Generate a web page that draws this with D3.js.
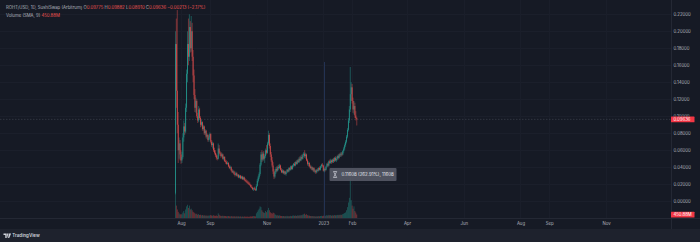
<!DOCTYPE html>
<html><head><meta charset="utf-8">
<script src="https://cdn.jsdelivr.net/npm/d3@7"></script>
<style>
html,body{margin:0;padding:0;background:#161a25;overflow:hidden;}
svg{display:block;font-family:"Inter","Noto Sans",sans-serif;}
</style>
</head><body>
<svg id="chart" width="700" height="242"></svg>
<script>
// Daily candles, first bar on 2022-07-26, one bar per day
const firstDay = "2022-07-26";

const opens = [
  .010,.185,.130,.090,.060,.068,
  .055,.048,.052,.075,.088,.082,.110,.150,.185,.170,.205,.180,.200,.170,.148,.125,.110,.118,.100,.095,.108,.098,.090,.093,.085,.088,.080,.083,.076,.078,.072,
  .075,.079,.070,.066,.068,.060,.057,.054,.051,.050,.062,.057,.056,.053,.055,.050,.052,.047,.046,.044,.045,.041,.039,.040,.036,.034,.035,.032,.031,.033,
  .030,.031,.028,.030,.027,.029,.026,.028,.025,.024,.023,.022,.021,.020,.019,.017,.016,.014,.015,.014,.013,.018,.024,.028,.032,.043,.055,.049,.056,.050,.053,
  .060,.057,.068,.078,.065,.055,.048,.042,.035,.029,.034,.038,.036,.040,.039,.042,.037,.034,.036,.033,.035,.032,.034,.037,.035,.039,.037,.041,.038,.042,
  .044,.042,.046,.044,.048,.046,.050,.048,.052,.050,.054,.056,.053,.055,.048,.044,.045,.041,.039,.040,.037,.039,.035,.036,.034,.037,.036,.039,.037,.041,.043,
  .042,.036,.038,.037,.041,.044,.042,.047,.045,.048,.046,.049,.047,.051,.048,.050,.053,.051,.055,.054,.056,.055,.059,.062,.066,.070,.076,.084,.095,.108,.126,
  .134,.118,.108,.112,.101,.09775
];
const highs = [
  .200,.215,.225,.105,.075,.072,
  .060,.058,.080,.095,.092,.115,.155,.200,.215,.220,.212,.218,.210,.178,.155,.132,.122,.120,.104,.112,.110,.100,.096,.094,.090,.089,.085,.084,.080,.079,.077,
  .081,.080,.072,.070,.069,.063,.060,.056,.054,.068,.066,.059,.058,.057,.056,.053,.053,.049,.048,.047,.046,.043,.042,.041,.038,.037,.036,.034,.035,.034,
  .032,.032,.031,.031,.030,.030,.029,.029,.027,.026,.025,.024,.023,.022,.020,.019,.017,.016,.017,.016,.020,.026,.030,.034,.045,.058,.060,.058,.059,.055,.062,
  .066,.070,.083,.080,.068,.058,.052,.046,.038,.036,.040,.041,.042,.043,.044,.043,.039,.038,.037,.036,.036,.035,.038,.038,.040,.040,.042,.042,.043,.045,
  .046,.047,.048,.049,.050,.052,.053,.054,.055,.056,.058,.060,.057,.056,.050,.047,.046,.043,.042,.041,.040,.040,.038,.037,.038,.039,.040,.041,.042,.044,.045,
  .043,.039,.040,.042,.045,.046,.048,.049,.050,.049,.050,.051,.052,.053,.052,.054,.055,.056,.057,.058,.058,.060,.064,.068,.072,.078,.086,.098,.112,.158,.140,
  .138,.122,.118,.116,.106,.09882
];
const lows = [
  .008,.110,.080,.045,.050,.048,
  .044,.045,.050,.070,.078,.080,.105,.140,.160,.165,.175,.176,.165,.140,.120,.105,.104,.098,.092,.093,.096,.087,.088,.083,.083,.078,.078,.074,.073,.070,.070,
  .073,.068,.064,.062,.058,.055,.052,.049,.048,.049,.055,.053,.051,.052,.049,.048,.046,.044,.043,.043,.040,.038,.037,.035,.033,.033,.031,.029,.030,.029,
  .028,.027,.027,.026,.026,.025,.025,.024,.023,.022,.021,.020,.019,.018,.016,.015,.013,.012,.013,.012,.012,.017,.022,.026,.030,.041,.046,.047,.048,.045,.051,
  .055,.056,.066,.062,.052,.046,.040,.032,.026,.027,.032,.034,.035,.037,.038,.036,.033,.033,.032,.031,.031,.030,.033,.034,.034,.036,.036,.037,.037,.040,
  .041,.041,.043,.043,.045,.045,.047,.047,.049,.049,.052,.051,.050,.047,.042,.041,.040,.038,.037,.036,.035,.034,.033,.032,.033,.035,.035,.036,.036,.039,.040,
  .035,.034,.035,.036,.040,.040,.041,.044,.044,.044,.045,.045,.046,.047,.046,.048,.049,.050,.052,.052,.053,.054,.057,.060,.064,.068,.074,.082,.092,.105,.118,
  .115,.104,.102,.098,.095,.08910
];
const closes = [
  .185,.130,.090,.060,.068,.055,
  .048,.052,.075,.088,.082,.110,.150,.185,.170,.205,.180,.200,.170,.148,.125,.110,.118,.100,.095,.108,.098,.090,.093,.085,.088,.080,.083,.076,.078,.072,.075,
  .079,.070,.066,.068,.060,.057,.054,.051,.050,.062,.057,.056,.053,.055,.050,.052,.047,.046,.044,.045,.041,.039,.040,.036,.034,.035,.032,.031,.033,.030,
  .031,.028,.030,.027,.029,.026,.028,.025,.024,.023,.022,.021,.020,.019,.017,.016,.014,.015,.014,.013,.018,.024,.028,.032,.043,.055,.049,.056,.050,.053,.060,
  .057,.068,.078,.065,.055,.048,.042,.035,.029,.034,.038,.036,.040,.039,.042,.037,.034,.036,.033,.035,.032,.034,.037,.035,.039,.037,.041,.038,.042,.044,
  .042,.046,.044,.048,.046,.050,.048,.052,.050,.054,.056,.053,.055,.048,.044,.045,.041,.039,.040,.037,.039,.035,.036,.034,.037,.036,.039,.037,.041,.043,.042,
  .036,.038,.037,.041,.044,.042,.047,.045,.048,.046,.049,.047,.051,.048,.050,.053,.051,.055,.054,.056,.055,.059,.062,.066,.070,.076,.084,.095,.108,.126,.134,
  .118,.108,.112,.101,.09775,.09636
];
// Volume in millions
const volumes = [
  3300,1600,1100,800,600,450,
  500,450,700,900,600,1100,1500,1700,1300,1600,1100,1200,1000,800,700,600,500,550,420,500,380,420,340,380,320,350,300,330,280,320,300,
  330,380,320,300,350,300,280,320,260,600,420,300,280,260,300,240,270,250,220,240,250,220,200,240,210,190,230,200,180,220,
  190,210,180,200,170,190,160,200,180,160,190,170,150,180,210,190,220,250,230,210,600,800,1000,1200,1500,1400,1000,800,700,650,900,
  750,1000,1300,1000,750,650,550,700,650,480,400,320,360,300,340,280,260,240,260,220,240,210,280,220,240,220,280,230,300,320,
  280,320,260,340,290,360,300,400,340,440,480,560,400,480,360,320,300,260,240,260,220,240,210,200,220,210,240,220,260,280,240,
  300,260,240,340,360,300,400,340,370,300,350,320,380,340,350,400,360,420,380,440,400,520,560,640,720,1000,1400,2000,2600,5200,2300,
  1600,1200,1500,900,700,450.88
];

const priceTicks = [0,0.02,0.04,0.06,0.08,0.10,0.12,0.14,0.16,0.18,0.20,0.22];
const timeTickDates = ["2022-08-01","2022-09-01","2022-11-01","2023-01-01","2023-02-01","2023-04-01","2023-06-01","2023-08-01","2023-09-01","2023-11-01"];
const timeTickLabels = ["Aug","Sep","Nov","2023","Feb","Apr","Jun","Aug","Sep","Nov"];

const symbolName = "ROHT/USD, 1D, SushiSwap (Arbitrum)";
const lastPrice = 0.09636;
const lastChange = "\u22120.00213 (\u22122.17%)";
const volumeLegend = "Volume (SMA, 9)";
const measureText = "0.11608 (262.91%), 11608";
const markerDate = "2023-01-02";

// ---- layout ----
const W = 700, H = 242;
const paneRight = 671, paneBottom = 218, footerTop = 229;
const bg = "#161a25", upCol = "#26a69a", downCol = "#ef5350", textCol = "#b2b5be";

const svg = d3.select("#chart");
const parse = d3.utcParse("%Y-%m-%d");
const day0 = parse(firstDay);
const bars = closes.map((c, i) => ({
  date: d3.utcDay.offset(day0, i),
  o: opens[i], h: highs[i], l: lows[i], c: c, v: volumes[i]
}));

const x = d3.scaleUtc()
  .domain([parse("2022-08-01"), parse("2023-11-01")])
  .range([181, 606]);
const y = d3.scaleLinear().domain([0, 0.22]).range([201.2, 14.3]);
const yv = d3.scaleLinear().domain([0, 5280]).range([paneBottom, 177]);

svg.append("rect").attr("width", W).attr("height", H).attr("fill", bg);

// grid
const grid = svg.append("g");
grid.selectAll("line.h").data(priceTicks).join("line")
  .attr("x1", 0).attr("x2", paneRight)
  .attr("y1", d => Math.round(y(d)) + 0.5).attr("y2", d => Math.round(y(d)) + 0.5)
  .attr("stroke", "#1b1f2b").attr("stroke-width", 1);
grid.selectAll("line.v").data(timeTickDates).join("line")
  .attr("y1", 0).attr("y2", paneBottom)
  .attr("x1", d => Math.round(x(parse(d))) + 0.5).attr("x2", d => Math.round(x(parse(d))) + 0.5)
  .attr("stroke", "#1a1e2a").attr("stroke-width", 1);

// volume bars
svg.append("g").selectAll("rect").data(bars).join("rect")
  .attr("x", d => x(d.date) - 0.4)
  .attr("width", 0.8)
  .attr("y", d => yv(d.v))
  .attr("height", d => paneBottom - yv(d.v))
  .attr("fill", d => d.c >= d.o ? "rgba(38,166,154,0.45)" : "rgba(239,83,80,0.45)");

// marker line
const mx = Math.round(x(parse(markerDate))) + 0.5;
svg.append("line").attr("x1", mx).attr("x2", mx).attr("y1", 62).attr("y2", paneBottom)
  .attr("stroke", "#27395e").attr("stroke-width", 1).attr("opacity", 0.8);

// last price line
svg.append("line").attr("x1", 0).attr("x2", paneRight)
  .attr("y1", y(lastPrice)).attr("y2", y(lastPrice))
  .attr("stroke", "#3e424e").attr("stroke-width", 0.7).attr("stroke-dasharray", "1.5,1.5");

// candles
const candles = svg.append("g").attr("opacity", 0.9);
candles.selectAll("line").data(bars).join("line")
  .attr("x1", d => x(d.date)).attr("x2", d => x(d.date))
  .attr("y1", d => y(d.h)).attr("y2", d => y(d.l))
  .attr("stroke", d => d.c >= d.o ? upCol : downCol).attr("stroke-width", 0.5);
candles.selectAll("rect").data(bars).join("rect")
  .attr("x", d => x(d.date) - 0.4).attr("width", 0.8)
  .attr("y", d => y(Math.max(d.o, d.c)))
  .attr("height", d => Math.max(0.6, Math.abs(y(d.o) - y(d.c))))
  .attr("fill", d => d.c >= d.o ? upCol : downCol);

// measurement label
const mg = svg.append("g").attr("transform", "translate(329.5,168)");
mg.append("rect").attr("width", 67).attr("height", 13).attr("rx", 1)
  .attr("fill", "#555966").attr("opacity", 0.9);
mg.append("path").attr("d", "M4,3.5h3.2l-1.6,3l1.6,3h-3.2l1.6,-3z")
  .attr("fill", "none").attr("stroke", "#e0e3eb").attr("stroke-width", 0.6);
mg.append("text").attr("x", 12).attr("y", 8.2).attr("fill", "#e8eaf0")
  .attr("font-size", 4.4).text(measureText);

// price axis
svg.append("rect").attr("x", paneRight).attr("y", 0).attr("width", W - paneRight).attr("height", footerTop).attr("fill", bg);
svg.append("line").attr("x1", paneRight + 0.5).attr("x2", paneRight + 0.5).attr("y1", 0).attr("y2", footerTop)
  .attr("stroke", "#242834");
const yAxis = d3.axisRight(y).tickValues(priceTicks).tickSize(0).tickPadding(2.5).tickFormat(d3.format(".5f"));
const ya = svg.append("g").attr("transform", `translate(${paneRight},0)`).call(yAxis);
ya.select(".domain").remove();
ya.selectAll("text").attr("fill", textCol).attr("font-size", 4.3).attr("font-family", "Inter, 'Noto Sans', sans-serif");

// price / volume value tags (drawn over the axis labels they cover)
function tag(yPos, label) {
  const g = svg.append("g").attr("transform", `translate(${paneRight},${yPos - 2.8})`);
  g.append("rect").attr("width", 23.5).attr("height", 5.8).attr("rx", 0.6).attr("fill", "#f23645");
  g.append("text").attr("x", 2.4).attr("y", 4.3).attr("fill", "#ffffff").attr("font-size", 4.3).text(label);
}
tag(y(lastPrice), d3.format(".5f")(lastPrice));
tag(yv(volumes[volumes.length - 1]), d3.format(".2f")(volumes[volumes.length - 1]) + "M");

// time axis
svg.append("line").attr("x1", 0).attr("x2", W).attr("y1", paneBottom + 0.5).attr("y2", paneBottom + 0.5).attr("stroke", "#242834");
const xAxis = d3.axisBottom(x).tickValues(timeTickDates.map(parse)).tickSize(0).tickPadding(4)
  .tickFormat((d, i) => timeTickLabels[i]);
const xa = svg.append("g").attr("transform", `translate(0,${paneBottom})`).call(xAxis);
xa.select(".domain").remove();
xa.selectAll("text").attr("fill", textCol).attr("font-size", 4.3).attr("font-family", "Inter, 'Noto Sans', sans-serif");

// footer band with logo
svg.append("rect").attr("x", 0).attr("y", footerTop).attr("width", W).attr("height", H - footerTop).attr("fill", "#1e222d");
const logo = svg.append("g").attr("transform", "translate(3.5,233.5)");
logo.append("path").attr("d", "M0,0h3.2v4.4h-1.4v-3h-1.8z M3.6,0h1.4l-1.4,4.4h-0.1z M5.4,0h2.2l-1.9,4.4h-1.1z")
  .attr("fill", "#d1d4dc");
logo.append("text").attr("x", 8.8).attr("y", 3.9).attr("fill", "#d1d4dc").attr("font-size", 4.5)
  .attr("font-weight", 600).text("TradingView");

// legend
const last = bars[bars.length - 1];
const fmt5 = d3.format(".5f");
const leg = svg.append("text").attr("x", 6).attr("y", 9).attr("font-size", 4.3).attr("fill", textCol);
leg.append("tspan").text(symbolName + "  ");
[["O", last.o], ["H", last.h], ["L", last.l], ["C", last.c]].forEach(([k, v]) => {
  leg.append("tspan").attr("fill", textCol).text(k);
  leg.append("tspan").attr("fill", downCol).text(fmt5(v) + " ");
});
leg.append("tspan").attr("fill", downCol).text(lastChange);
const leg2 = svg.append("text").attr("x", 6).attr("y", 17).attr("font-size", 4.3).attr("fill", textCol);
leg2.append("tspan").text(volumeLegend + "  ");
leg2.append("tspan").attr("fill", downCol).text(d3.format(".2f")(last.v) + "M");
</script>
</body></html>
